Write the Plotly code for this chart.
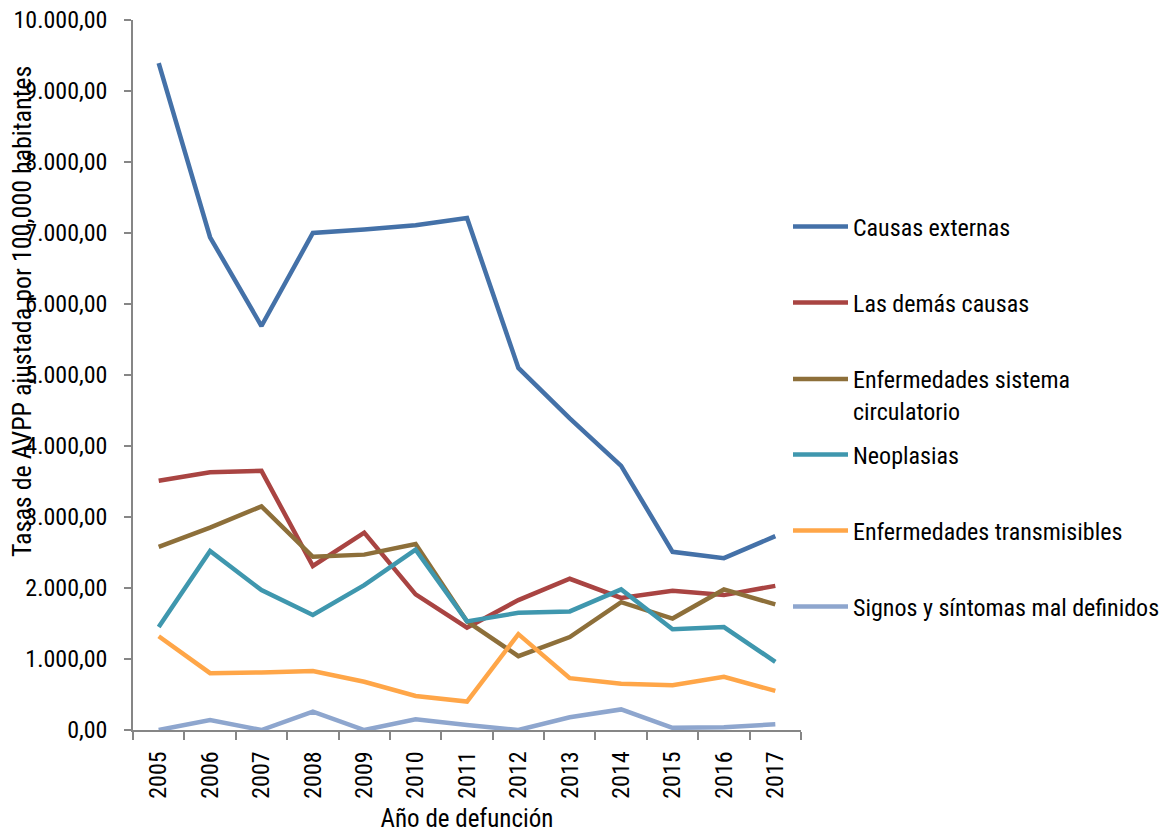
import plotly.graph_objects as go

years = ["2005", "2006", "2007", "2008", "2009", "2010", "2011",
         "2012", "2013", "2014", "2015", "2016", "2017"]

causas_externas = [9394, 6940, 5690, 7000, 7050, 7110, 7210, 5100, 4390, 3720, 2510, 2420, 2730]
demas_causas = [3510, 3630, 3650, 2310, 2780, 1910, 1440, 1830, 2130, 1860, 1960, 1900, 2030]
circulatorio = [2580, 2850, 3150, 2440, 2470, 2620, 1530, 1040, 1310, 1800, 1570, 1980, 1770]
neoplasias = [1450, 2520, 1970, 1620, 2040, 2540, 1530, 1650, 1670, 1980, 1420, 1450, 960]
transmisibles = [1320, 800, 810, 830, 680, 480, 400, 1350, 730, 650, 630, 750, 550]
signos = [0, 140, 0, 260, 0, 150, 70, 0, 180, 290, 30, 40, 80]

series = [
    ("Causas externas", causas_externas, "#4471A8"),
    ("Las demás causas", demas_causas, "#A94442"),
    ("Enfermedades sistema<br>circulatorio", circulatorio, "#8D6F3A"),
    ("Neoplasias", neoplasias, "#3F97AE"),
    ("Enfermedades transmisibles", transmisibles, "#FFA648"),
    ("Signos y síntomas mal definidos", signos, "#8EA6CE"),
]

FONT = "Liberation Sans Narrow, Arial Narrow, Roboto Condensed, Liberation Sans, sans-serif"

W, H = 1175, 833
L, R, T, B = 133, 801, 20, 730          # plot area in pixels
legend_y_px = [227, 303, 379, 455, 531, 607]


def px_x(x):
    return (x - L) / (R - L)


def px_y(y):
    return (B - y) / (B - T)


fig = go.Figure()
layout_legends = {}
for i, (name, vals, color) in enumerate(series):
    key = "legend" if i == 0 else f"legend{i + 1}"
    fig.add_trace(go.Scatter(
        x=years, y=vals, mode="lines", name=name,
        line=dict(color=color, width=4.5),
        legend=key,
    ))
    two_lines = "<br>" in name
    layout_legends[key] = dict(
        x=px_x(788), xanchor="left",
        y=px_y(legend_y_px[i]) + (0.031 if two_lines else 0),
        yanchor="top" if two_lines else "middle",
        valign="top",
        itemwidth=55,
        bgcolor="rgba(0,0,0,0)",
        font=dict(family=FONT, size=24, color="#000000"),
        tracegroupgap=0,
    )

fig.update_layout(
    width=W, height=H,
    margin=dict(l=L, r=W - R, t=T, b=H - B, autoexpand=False),
    paper_bgcolor="white", plot_bgcolor="white",
    separators=",.",
    font=dict(family=FONT, size=24, color="#000000"),
    showlegend=True,
    xaxis=dict(
        type="category", automargin=False,
        range=[-0.5, len(years) - 0.5],
        showgrid=False, zeroline=False,
        showline=True, linecolor="#868686", linewidth=1.5,
        ticks="outside", ticklen=8, tickcolor="#868686", tickwidth=1.5,
        tickson="boundaries",
        tickangle=-90, ticklabelstandoff=10,
        tickfont=dict(family=FONT, size=24),
        title=dict(text="Año de defunción", font=dict(family=FONT, size=25), standoff=12),
    ),
    yaxis=dict(
        range=[0, 10000], dtick=1000, tickformat=",.2f", automargin=False,
        showgrid=False, zeroline=False,
        showline=True, linecolor="#868686", linewidth=1.5,
        ticks="outside", ticklen=7, tickcolor="#868686", tickwidth=1.5,
        ticklabelstandoff=12,
        tickfont=dict(family=FONT, size=24),
    ),
    annotations=[dict(
        text="Tasas de AVPP ajustada por 100,000 habitantes",
        xref="paper", yref="paper", x=px_x(22), y=px_y(312),
        xanchor="center", yanchor="middle", textangle=-90, showarrow=False,
        font=dict(family=FONT, size=26, color="#000000"),
    )],
    **layout_legends,
)

# drop the default page margin so the figure sits at the window's top-left corner
fig.write_html("out.html", config={"displayModeBar": False},
               post_script="document.body.style.margin = '0';")
